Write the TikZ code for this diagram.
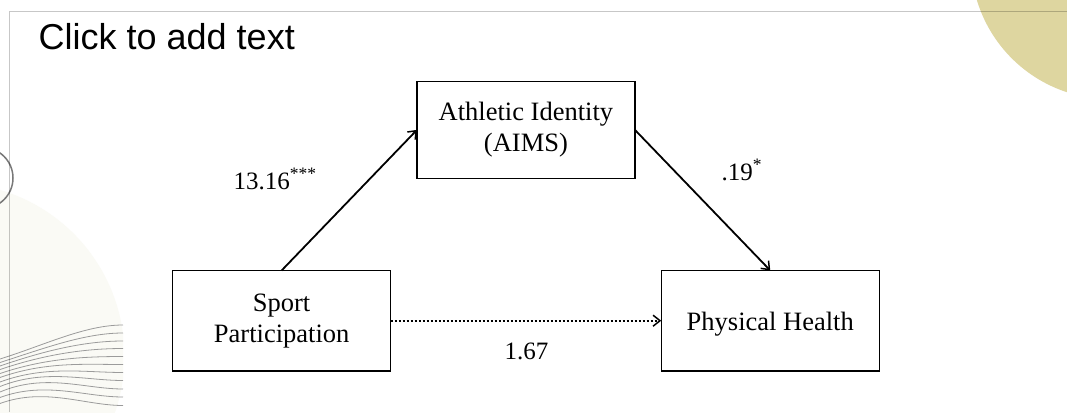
\documentclass[tikz,border=0pt]{standalone}
\usepackage{fontspec}
\setmainfont{Liberation Serif}
\newfontfamily\slidefont{Liberation Sans}
\usetikzlibrary{matrix,arrows.meta}

\definecolor{sunyellow}{RGB}{222,214,160}
\definecolor{creamfill}{RGB}{250,250,245}
\definecolor{waveline}{RGB}{155,155,155}
\definecolor{ringline}{RGB}{120,120,120}

\newcommand{\twolines}[2]{\begin{tabular}{@{}c@{}}#1\\#2\end{tabular}}

\begin{document}
\begin{tikzpicture}[x=1pt, y=-1pt,
    pathline/.style={line width=1.8pt, -{Straight Barb[length=7pt, width=11pt, line width=1.5pt]}},
    coef/.style={anchor=base west, inner sep=0pt, font=\fontsize{25}{30}\selectfont}]
  \useasboundingbox (0,0) rectangle (1067,412);
  \clip (0,0) rectangle (1067,412);
  \fill[white] (0,0) rectangle (1067,412);
  % slide background
  \begin{scope}
    \clip (0,150) rectangle (123,412);
    \fill[creamfill] (-48.6,356) circle[radius=173pt];
    \foreach \yl/\yc/\yr in {359/344.9/325, 362.5/348/333, 366/350.5/341, 369.5/354.3/348.5,
        373.5/358.3/356.5, 377.5/361.5/364.5, 382/365.3/372.5, 386.5/368.4/380.5,
        392/372.8/389, 397.5/380.8/397, 403.5/387/405.5}
      \draw[waveline, line width=0.8pt] (0,\yl) .. controls (45,\yc) and (85,\yr) .. (123,\yr);
  \end{scope}
  \draw[ringline, line width=1.5pt] (-17.5,178) circle[radius=30.5pt];
  \fill[sunyellow] (1110,-40) circle[radius=139pt];
  \draw[black, opacity=0.22, line width=1pt] (9.5,412) -- (9.5,12) -- (1067,12);
  \node[anchor=base west, inner sep=0pt, font=\slidefont\fontsize{36}{40}\selectfont] (title) at (38.5,49) {Click to add text};

  % mediation model
  \matrix (m) [matrix of nodes, ampersand replacement=\&, anchor=north west,
          inner sep=0pt, outer sep=0pt, column sep=25pt, row sep=91pt,
          nodes={draw, line width=1.3pt, minimum width=218pt, minimum height=100.5pt,
                 inner sep=0pt, anchor=center, font=\fontsize{26.5}{31}\selectfont}] at (172,81) {
    \& |[minimum height=96.5pt] (ai)| \twolines{Athletic Identity}{(AIMS)} \& \\
    |(sp)| \twolines{Sport}{Participation}
      \& \& |[text height=19pt, text depth=0pt] (ph)| Physical Health \\
  };

  \draw[pathline] (sp.north) -- (ai.west);
  \draw[pathline] (ai.east) -- (ph.north);
  \draw[pathline, line width=1.6pt, dash pattern=on 2pt off 2pt] (sp.east) -- (ph.west);

  \node[coef] (lblsa) at (233.5,189) {13.16\textsuperscript{***}};
  \node[coef] (lblap) at (721.5,180) {.19\textsuperscript{*}};
  \node[coef] (lblsp) at (504.5,359) {1.67};
\end{tikzpicture}
\end{document}
